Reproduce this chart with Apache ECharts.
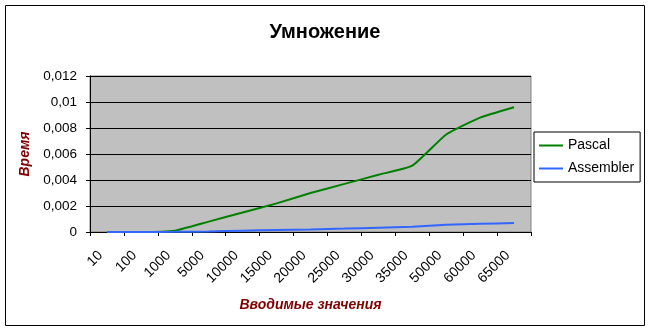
<!DOCTYPE html>
<html>
<head>
<meta charset="utf-8">
<script src="https://cdn.jsdelivr.net/npm/echarts@6/dist/echarts.min.js"></script>
<style>
html,body{margin:0;padding:0;background:#fff;}
#chart{width:650px;height:330px;}
</style>
</head>
<body>
<div id="chart"></div>
<script>
var categories = ['10','100','1000','5000','10000','15000','20000','25000','30000','35000','50000','60000','65000'];
var pascal = [0, 0, 0.0001, 0.0008, 0.0015, 0.0022, 0.0030, 0.0037, 0.0044, 0.0051, 0.0075, 0.0088, 0.0096];
var assembler = [0, 0, 0.00001, 0.00004, 0.0001, 0.00015, 0.0002, 0.00026, 0.00033, 0.0004, 0.00055, 0.00063, 0.00069];
var yTicks = ['0','0,002','0,004','0,006','0,008','0,01','0,012'];

var FONT = "'Liberation Sans', Arial, sans-serif";
var chart = echarts.init(document.getElementById('chart'), null, {renderer:'canvas'});
chart.setOption({
  animation: false,
  backgroundColor: '#ffffff',
  title: {
    text: 'Умножение',
    left: 'center',
    top: 17,
    textStyle: {fontFamily: FONT, fontSize: 20, fontWeight: 'bold', color: '#000'}
  },
  graphic: [{
    type: 'rect',
    shape: {x: 5.5, y: 5.5, width: 639, height: 320},
    style: {fill: 'none', stroke: '#000', lineWidth: 1},
    silent: true
  }],
  legend: {
    orient: 'vertical',
    left: 534,
    top: 132,
    padding: [6, 6, 6, 5],
    itemGap: 8,
    itemWidth: 24,
    itemHeight: 2,
    icon: 'rect',
    borderColor: '#000',
    borderWidth: 1,
    backgroundColor: '#fff',
    borderRadius: 0,
    textStyle: {fontFamily: FONT, fontSize: 14, color: '#000', lineHeight: 15},
    data: ['Pascal', 'Assembler']
  },
  grid: {
    left: 90, right: 119, top: 76, bottom: 98,
    show: true,
    backgroundColor: '#C0C0C0',
    borderColor: '#808080',
    borderWidth: 1
  },
  xAxis: {
    type: 'category',
    data: categories,
    boundaryGap: true,
    name: 'Вводимые значения',
    nameLocation: 'middle',
    nameGap: 66,
    nameTextStyle: {fontFamily: FONT, fontSize: 14, fontWeight: 'bold', fontStyle: 'italic', color: '#800000'},
    axisLine: {lineStyle: {color: '#000', width: 1}},
    axisTick: {show: true, length: 4, inside: false, lineStyle: {color: '#000'}},
    axisLabel: {rotate: 45, margin: 15, padding: [0, 9, 0, 0], interval: 0, fontFamily: FONT, fontSize: 14, color: '#000'},
    splitLine: {show: false}
  },
  yAxis: {
    type: 'value',
    min: 0,
    max: 0.012,
    interval: 0.002,
    name: 'Время',
    nameLocation: 'middle',
    nameGap: 50,
    nameRotate: 90,
    nameTextStyle: {fontFamily: FONT, fontSize: 14, fontWeight: 'bold', fontStyle: 'italic', color: '#800000'},
    axisLine: {show: true, lineStyle: {color: '#000', width: 1}},
    axisTick: {show: true, length: 4, inside: false, lineStyle: {color: '#000'}},
    axisLabel: {
      margin: 13,
      fontFamily: FONT, fontSize: 13.5, color: '#000',
      formatter: function (v) { return yTicks[Math.round(v / 0.002)]; }
    },
    splitLine: {show: true, lineStyle: {color: '#000', width: 1}}
  },
  series: [
    {
      name: 'Pascal',
      type: 'line',
      data: pascal,
      symbol: 'none',
      smooth: 0.15,
      lineStyle: {color: '#008000', width: 2},
      itemStyle: {color: '#008000'}
    },
    {
      name: 'Assembler',
      type: 'line',
      data: assembler,
      symbol: 'none',
      smooth: 0.15,
      lineStyle: {color: '#3366FF', width: 2},
      itemStyle: {color: '#3366FF'}
    }
  ]
});
</script>
</body>
</html>
